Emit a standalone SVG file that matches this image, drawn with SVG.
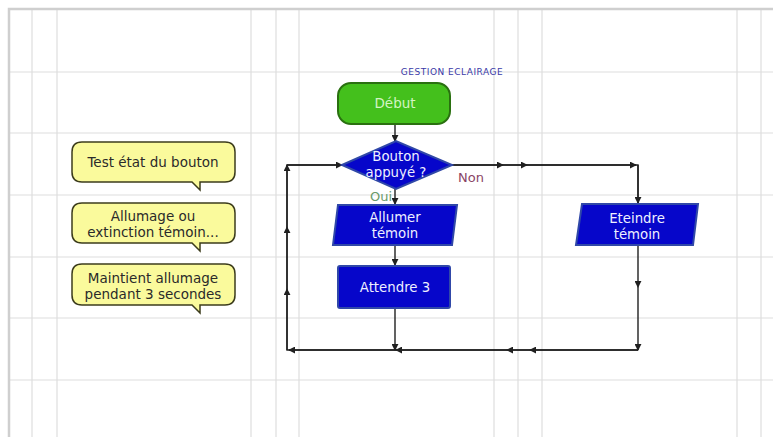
<svg xmlns="http://www.w3.org/2000/svg" width="773" height="437" viewBox="0 0 773 437">
<style>
.grid line{stroke:#dedede;stroke-width:1.2}
.border{stroke:#cfcfcf;stroke-width:2.5;fill:none}
.note{fill:#fafa9c;stroke:#3c3c1c;stroke-width:1.5}
.notetxt{font-family:"DejaVu Sans",Verdana,sans-serif;font-size:13.5px;fill:#2a2a2a;text-anchor:middle}
.blk{fill:#0606ca;stroke:#3048a8;stroke-width:2}
.wtxt{font-family:"DejaVu Sans",Verdana,sans-serif;font-size:13.3px;fill:#eef0ff;text-anchor:middle}
.conn{stroke:#202020;stroke-width:1.4;fill:none}
</style>
<defs>
<marker id="ah" viewBox="0 0 8 8" refX="7" refY="4" markerWidth="7" markerHeight="7" markerUnits="userSpaceOnUse" orient="auto">
<path d="M0,0 L8,4 L0,8 z" fill="#202020"/>
</marker>
</defs>
<rect x="0" y="0" width="773" height="437" fill="#ffffff"/>
<g class="grid">
<line x1="32" y1="10" x2="32" y2="437"/>
<line x1="57" y1="10" x2="57" y2="437"/>
<line x1="251" y1="10" x2="251" y2="437"/>
<line x1="276" y1="10" x2="276" y2="437"/>
<line x1="299" y1="10" x2="299" y2="437"/>
<line x1="494" y1="10" x2="494" y2="437"/>
<line x1="518" y1="10" x2="518" y2="437"/>
<line x1="542" y1="10" x2="542" y2="437"/>
<line x1="737" y1="10" x2="737" y2="437"/>
<line x1="761" y1="10" x2="761" y2="437"/>
<line x1="9" y1="72" x2="773" y2="72"/>
<line x1="9" y1="133" x2="773" y2="133"/>
<line x1="9" y1="195" x2="773" y2="195"/>
<line x1="9" y1="257" x2="773" y2="257"/>
<line x1="9" y1="318" x2="773" y2="318"/>
<line x1="9" y1="380" x2="773" y2="380"/>
</g>
<path class="border" d="M9,437 V9 H773"/>

<g id="title">
<text x="452" y="75" font-family="DejaVu Sans,Verdana,sans-serif" font-size="9" letter-spacing="0.5" fill="#3a3aa8" text-anchor="middle">GESTION ECLAIRAGE</text>
</g>

<g id="connectors">
<line class="conn" x1="395" y1="124" x2="395" y2="141" marker-end="url(#ah)"/>
<line class="conn" x1="395" y1="189" x2="395" y2="204" marker-end="url(#ah)"/>
<line class="conn" x1="395" y1="245" x2="395" y2="265" marker-end="url(#ah)"/>
<line class="conn" x1="395" y1="308" x2="395" y2="350" marker-end="url(#ah)"/>
<path class="conn" d="M452,165 H638 V245"/>
<line class="conn" x1="452" y1="165" x2="503" y2="165" marker-end="url(#ah)"/>
<line class="conn" x1="503" y1="165" x2="527" y2="165" marker-end="url(#ah)"/>
<line class="conn" x1="527" y1="165" x2="636" y2="165" marker-end="url(#ah)"/>
<line class="conn" x1="638" y1="165" x2="638" y2="203" marker-end="url(#ah)"/>
<line class="conn" x1="638" y1="245" x2="638" y2="287" marker-end="url(#ah)"/>
<line class="conn" x1="638" y1="287" x2="638" y2="350" marker-end="url(#ah)"/>
<path class="conn" d="M638,350 H287 V165 H342"/>
<line class="conn" x1="638" y1="350" x2="530" y2="350" marker-end="url(#ah)"/>
<line class="conn" x1="530" y1="350" x2="507" y2="350" marker-end="url(#ah)"/>
<line class="conn" x1="507" y1="350" x2="396" y2="350" marker-end="url(#ah)"/>
<line class="conn" x1="396" y1="350" x2="289" y2="350" marker-end="url(#ah)"/>
<line class="conn" x1="287" y1="350" x2="287" y2="289" marker-end="url(#ah)"/>
<line class="conn" x1="287" y1="289" x2="287" y2="227" marker-end="url(#ah)"/>
<line class="conn" x1="287" y1="227" x2="287" y2="165" marker-end="url(#ah)"/>
<line class="conn" x1="287" y1="165" x2="342" y2="165" marker-end="url(#ah)"/>
<text x="381" y="201" font-family="DejaVu Sans,Verdana,sans-serif" font-size="13" fill="#6a9a6a" text-anchor="middle">Oui</text>
<text x="471" y="182" font-family="DejaVu Sans,Verdana,sans-serif" font-size="13" fill="#8a4466" text-anchor="middle">Non</text>
</g>

<g id="debut">
<rect x="338" y="83" width="112" height="41" rx="13" fill="#44c01c" stroke="#2a7010" stroke-width="2"/>
<text x="395" y="108" font-family="DejaVu Sans,Verdana,sans-serif" font-size="13.5" fill="#d4f4c4" text-anchor="middle">Début</text>
</g>

<g id="bouton">
<polygon class="blk" points="342,165 396,141 452,165 396,189"/>
<text class="wtxt" x="396" y="161">Bouton</text>
<text class="wtxt" x="396" y="177">appuyé ?</text>
</g>

<g id="allumer">
<polygon class="blk" points="338,205 457,205 452,245 333,245"/>
<text class="wtxt" x="395" y="222">Allumer</text>
<text class="wtxt" x="395" y="238">témoin</text>
</g>

<g id="attendre">
<rect class="blk" x="338" y="266" width="112" height="42" rx="2"/>
<text class="wtxt" x="395" y="292">Attendre 3</text>
</g>

<g id="eteindre">
<polygon class="blk" points="582,204 698,204 693,245 576,245"/>
<text class="wtxt" x="637" y="223">Eteindre</text>
<text class="wtxt" x="637" y="239">témoin</text>
</g>

<g id="note1">
<path class="note" d="M82,142 H225 Q235,142 235,152 V172 Q235,182 225,182 H200 V190 L192,182 H82 Q72,182 72,172 V152 Q72,142 82,142 Z"/>
<text class="notetxt" x="153" y="167">Test état du bouton</text>
</g>

<g id="note2">
<path class="note" d="M82,203 H225 Q235,203 235,213 V233 Q235,243 225,243 H200 V251 L192,243 H82 Q72,243 72,233 V213 Q72,203 82,203 Z"/>
<text class="notetxt" x="153" y="221">Allumage ou</text>
<text class="notetxt" x="153" y="237">extinction témoin...</text>
</g>

<g id="note3">
<path class="note" d="M82,264 H225 Q235,264 235,274 V295 Q235,305 225,305 H200 V313 L192,305 H82 Q72,305 72,295 V274 Q72,264 82,264 Z"/>
<text class="notetxt" x="153" y="283">Maintient allumage</text>
<text class="notetxt" x="153" y="299">pendant 3 secondes</text>
</g>
</svg>
